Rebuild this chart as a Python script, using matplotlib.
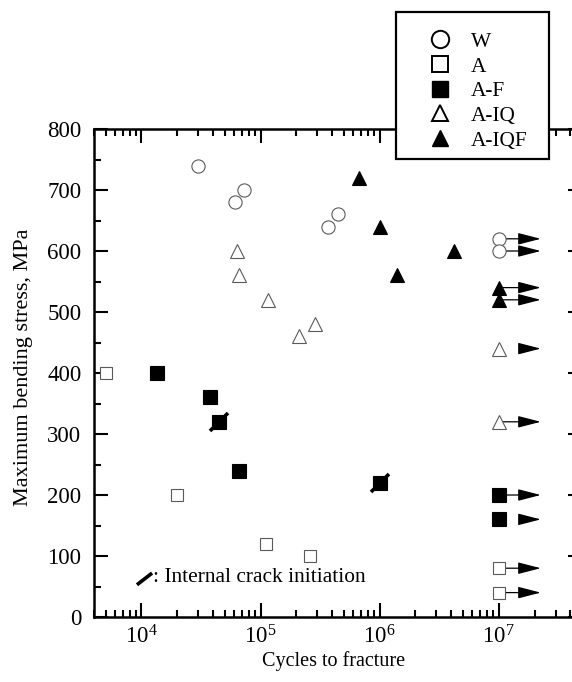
import matplotlib
matplotlib.use("Agg")
import matplotlib.pyplot as plt
from matplotlib.lines import Line2D
from matplotlib.markers import MarkerStyle
from matplotlib.patches import Rectangle
from matplotlib.transforms import Affine2D, offset_copy
from matplotlib.ticker import LogLocator, MultipleLocator, NullFormatter

plt.rcParams['font.family'] = ['Liberation Serif', 'DejaVu Serif']
plt.rcParams['mathtext.fontset'] = 'custom'
plt.rcParams['mathtext.rm'] = 'Liberation Serif'

# ---------------- data ----------------
runout_N = 1e7

W_N = [3.0e4, 6.1e4, 7.2e4, 3.7e5, 4.5e5]
W_S = [740, 680, 700, 640, 660]
W_runout = [620, 600]
W_runout_line = [True, True]

A_N = [5.0e3, 2.0e4, 1.12e5, 2.6e5]
A_S = [400, 200, 120, 100]
A_runout = [80, 40]
A_runout_line = [True, True]

AF_N = [1.35e4, 3.76e4, 4.47e4, 6.6e4, 1.0e6]
AF_S = [400, 360, 320, 240, 220]
AF_internal = [False, False, True, False, True]
AF_runout = [200, 160]
AF_runout_line = [True, False]

AIQ_N = [6.3e4, 6.6e4, 1.15e5, 2.1e5, 2.85e5]
AIQ_S = [600, 560, 520, 460, 480]
AIQ_runout = [440, 320]
AIQ_runout_line = [False, True]

AIQF_N = [6.7e5, 1.0e6, 1.4e6, 4.2e6]
AIQF_S = [720, 640, 560, 600]
AIQF_runout = [540, 520]
AIQF_runout_line = [True, True]

labels = ['W', 'A', 'A-F', 'A-IQ', 'A-IQF']
yticks = [0, 100, 200, 300, 400, 500, 600, 700, 800]

# ---------------- figure ----------------
fig = plt.figure(figsize=(5.72, 6.82), dpi=100)
ax = fig.add_axes([94 / 572, 1 - 617 / 682, 488 / 572, 488 / 682])
ax.set_xscale('log')
ax.set_xlim(4e3, 5e7)
ax.set_ylim(0, 800)

open_ec = '#5a5a5a'
ms = 9.5
series = [
    (W_N, W_S, W_runout, W_runout_line, 'o', 'white', open_ec, ms),
    (A_N, A_S, A_runout, A_runout_line, 's', 'white', open_ec, ms - 0.3),
    (AF_N, AF_S, AF_runout, AF_runout_line, 's', 'black', 'black', ms + 0.3),
    (AIQ_N, AIQ_S, AIQ_runout, AIQ_runout_line, '^', 'white', open_ec, ms),
    (AIQF_N, AIQF_S, AIQF_runout, AIQF_runout_line, '^', 'black', 'black', ms),
]

tip_tr = offset_copy(ax.transData, fig=fig, x=42, y=0, units='dots')
base_tr = offset_copy(ax.transData, fig=fig, x=22, y=0, units='dots')

for N, S, ro, ro_line, mk, fc, ec, m in series:
    ax.plot(N, S, linestyle='none', marker=mk, markersize=m,
            markerfacecolor=fc, markeredgecolor=ec, markeredgewidth=0.8, zorder=4)
    ax.plot([runout_N] * len(ro), ro, linestyle='none', marker=mk, markersize=m,
            markerfacecolor=fc, markeredgecolor=ec, markeredgewidth=0.8, zorder=4)
    lc = 'black' if fc == 'black' else '#666666'
    for y, has_line in zip(ro, ro_line):
        start_tr = ax.transData if has_line else base_tr
        ax.annotate('', xy=(runout_N, y), xycoords=tip_tr,
                    xytext=(runout_N, y), textcoords=start_tr,
                    arrowprops=dict(arrowstyle='-|>,head_length=1.4,head_width=0.36',
                                    mutation_scale=10, lw=0.9, color=lc,
                                    fc='black', ec='black',
                                    shrinkA=0, shrinkB=0), zorder=3)

# internal crack initiation slashes
slash = MarkerStyle('|', transform=Affine2D().rotate_deg(-45))
for n, s, flag in zip(AF_N, AF_S, AF_internal):
    if flag:
        ax.plot([n], [s], linestyle='none', marker=slash, markersize=19,
                markeredgewidth=2.6, color='black', zorder=5)

# note
ax.plot([0.088, 0.119], [0.066, 0.090], transform=ax.transAxes,
        color='black', lw=2.6, solid_capstyle='butt', clip_on=False)
ax.text(0.121, 0.081, ': Internal crack initiation', transform=ax.transAxes,
        fontsize=15.4, va='center', ha='left')

# axes styling
for sp in ax.spines.values():
    sp.set_linewidth(1.8)
ax.xaxis.set_major_locator(LogLocator(base=10, numticks=20))
ax.xaxis.set_minor_locator(LogLocator(base=10, subs=range(2, 10), numticks=100))
ax.xaxis.set_minor_formatter(NullFormatter())
ax.set_yticks(yticks)
ax.yaxis.set_minor_locator(MultipleLocator(50))
ax.tick_params(which='both', direction='in', top=True, right=True, width=1.5)
ax.tick_params(which='major', length=10, labelsize=16.5)
ax.tick_params(which='minor', length=5)
ax.tick_params(axis='y', which='major', pad=9)
ax.tick_params(axis='x', which='major', pad=6)

ax.set_xlabel('Cycles to fracture', fontsize=14.5)
ax.set_ylabel('Maximum bending stress, MPa', fontsize=16)
ax.xaxis.set_label_coords((334 - 94) / 488, -(651 - 617) / 488)
ax.yaxis.set_label_coords(-(94 - 33) / 488, (617 - 367) / 488)

# legend (frame drawn separately so the rows sit where they do in the original)
frame = Rectangle((396 / 572, 1 - 159 / 682), 153 / 572, 147 / 682,
                  transform=fig.transFigure, facecolor='white', edgecolor='black',
                  linewidth=1.6, zorder=9)
fig.patches.append(frame)

lms = 12.5
handles = [
    Line2D([], [], linestyle='none', marker='o', markersize=lms, markerfacecolor='white', markeredgecolor='black', markeredgewidth=1.4),
    Line2D([], [], linestyle='none', marker='s', markersize=lms - 1, markerfacecolor='white', markeredgecolor='black', markeredgewidth=1.4),
    Line2D([], [], linestyle='none', marker='s', markersize=lms - 1, markerfacecolor='black', markeredgecolor='black'),
    Line2D([], [], linestyle='none', marker='^', markersize=lms - 0.5, markerfacecolor='white', markeredgecolor='black', markeredgewidth=1.4),
    Line2D([], [], linestyle='none', marker='^', markersize=lms - 0.5, markerfacecolor='black', markeredgecolor='black'),
]
leg = fig.legend(handles, labels, loc='upper left',
                 bbox_to_anchor=(396 / 572, 1 - 18 / 682),
                 bbox_transform=fig.transFigure,
                 borderaxespad=0, fontsize=15.4, frameon=False,
                 borderpad=0.65, handlelength=2.8, handletextpad=0.05,
                 labelspacing=0.22)
leg.set_zorder(10)

fig.savefig('out.png', dpi=100)
